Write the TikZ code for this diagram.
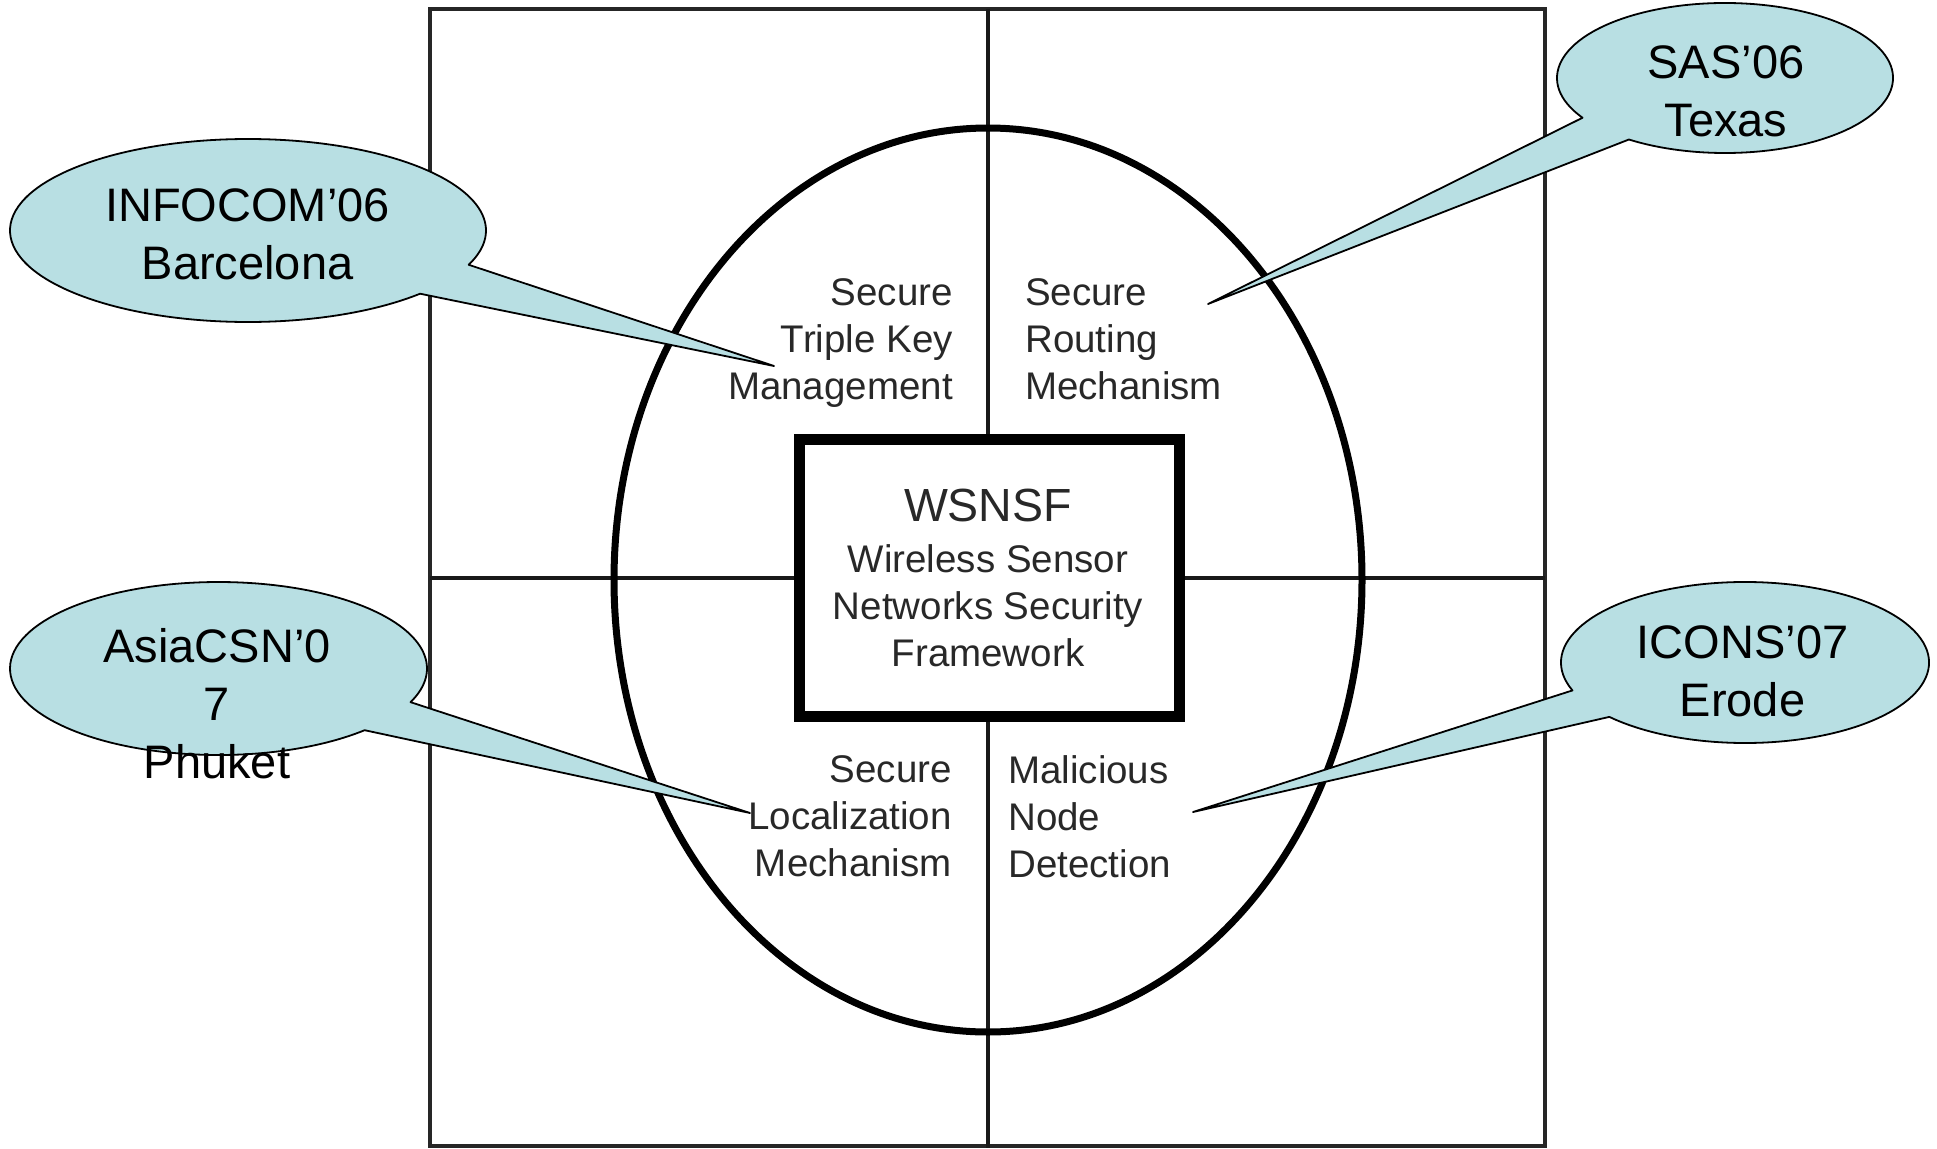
\documentclass[tikz,border=0pt]{standalone}
\usepackage{fontspec}
\setmainfont{Liberation Sans}
\definecolor{bubblefill}{RGB}{184,223,227}
\definecolor{inkgray}{RGB}{40,40,40}
\begin{document}
\begin{tikzpicture}[x=1pt,y=-1pt,
  frameline/.style={draw=black!85, line width=3.5pt},
  crossline/.style={draw=black!90, line width=4.5pt},
  bubble/.style={fill=bubblefill, draw=black, line width=1.8pt, line join=round},
  bubbletext/.style={font=\fontsize{47}{58}\selectfont, align=center, inner sep=0pt, anchor=north},
  quadtext/.style={font=\fontsize{38.5}{47}\selectfont, text=inkgray, inner sep=0pt},
  corebox/.style={draw=black, line width=11pt, fill=white, minimum width=380, minimum height=277, inner sep=0pt}
]
\useasboundingbox (0,0) rectangle (1937,1148);

% outer frame and the cross dividing it into four quadrants
\draw[frameline] (430,9) rectangle (1545,1146);
\draw[crossline] (988,9) -- (988,1148);
\draw[crossline] (430,578) -- (1545,578);

% the large ellipse around the framework
\draw[line width=7pt] (988,580) ellipse [x radius=374, y radius=452];

% central framework box
\node[corebox] (core) at (989,577.5) {};
\node[font=\fontsize{38.5}{47}\selectfont, text=inkgray, align=center, inner sep=0pt, anchor=north] (coretext) at (988,488.5)
  {{\fontsize{46.5}{52}\selectfont WSNSF}\\[4pt]Wireless Sensor\\Networks Security\\Framework};

% the four research areas
\node[quadtext, align=right, anchor=north east] (keymgmt) at (953,278)
  {Secure\\Triple Key\\Management};
\node[quadtext, align=left, anchor=north west] (routing) at (1025,278)
  {Secure\\Routing\\Mechanism};
\node[quadtext, align=right, anchor=north east] (localize) at (952,755)
  {Secure\\Localization\\Mechanism};
\node[quadtext, align=left, anchor=north west] (malicious) at (1008,755)
  {Malicious\\Node\\Detection};

% callout bubbles: ellipse centres and pointer tips
\coordinate (infoC) at (248,230.5);
\coordinate (infoTip) at (774,366);
\coordinate (sasC) at (1725,78);
\coordinate (sasTip) at (1208,304);
\coordinate (asiaC) at (218.5,668.5);
\coordinate (asiaTip) at (750,813);
\coordinate (iconsC) at (1745,662.5);
\coordinate (iconsTip) at (1193,812);

\draw[bubble] (infoC) ++(43.7:238 and 91.5)
  arc[start angle=43.7, end angle=382, x radius=238, y radius=91.5] -- (infoTip) -- cycle;
\draw[bubble] (sasC) ++(148:168 and 75)
  arc[start angle=148, end angle=484.9, x radius=168, y radius=75] -- (sasTip) -- cycle;
\draw[bubble] (asiaC) ++(45.5:208.5 and 86.5)
  arc[start angle=45.5, end angle=382.9, x radius=208.5, y radius=86.5] -- (asiaTip) -- cycle;
\draw[bubble] (iconsC) ++(159.7:184 and 80.5)
  arc[start angle=159.7, end angle=497.5, x radius=184, y radius=80.5] -- (iconsTip) -- cycle;

\node[bubbletext] (infocom) at (247.5,188) {INFOCOM’06\\Barcelona};
\node[bubbletext] (sas) at (1726,45) {SAS’06\\Texas};
\node[bubbletext] (asiacsn) at (217,628) {AsiaCSN’0\\7\\Phuket};
\node[bubbletext] (icons) at (1742.5,625) {ICONS’07\\Erode};
\end{tikzpicture}
\end{document}
